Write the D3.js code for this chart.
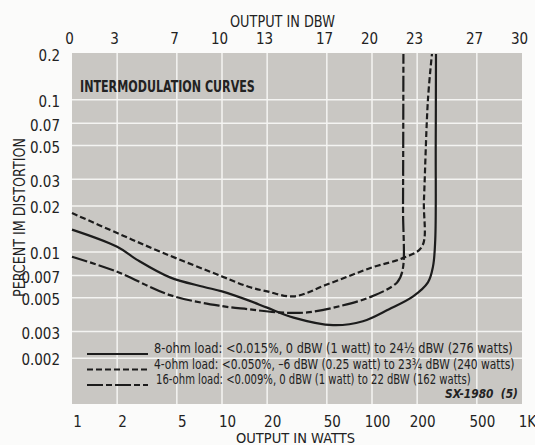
<!DOCTYPE html>
<html>
<head>
<meta charset="utf-8">
<script src="https://cdn.jsdelivr.net/npm/d3@7"></script>
<style>
  body { margin: 0; background: #fbfbfa; }
  svg { display: block; }
  text { font-family: "DejaVu Sans Condensed", "Liberation Sans Narrow", sans-serif; fill: #222; }
</style>
</head>
<body>
<svg id="canvas" width="535" height="445"></svg>
<script>
// data
const wattTicks = [1, 2, 5, 10, 20, 50, 100, 200, 500, 1000]
const wattLabels = ["1", "2", "5", "10", "20", "50", "100", "200", "500", "1K"]
const dbwTicks = [0, 3, 7, 10, 13, 17, 20, 23, 27, 30]
const pctTicks = [0.2, 0.1, 0.07, 0.05, 0.03, 0.02, 0.01, 0.007, 0.005, 0.003, 0.002]

const ohm8W = [1, 2, 2.7, 4.5, 7.5, 10, 15, 20, 30, 55, 87, 130, 188, 236, 255, 264, 266, 267]
const ohm8P = [0.014, 0.0108, 0.0089, 0.0068, 0.0059, 0.0055, 0.0048, 0.0043, 0.0037, 0.0033, 0.0035, 0.0042, 0.0051, 0.0063, 0.008, 0.012, 0.05, 0.2]

const ohm4W = [1, 2, 4, 10, 15, 20, 30, 50, 100, 160, 215, 222, 236, 251]
const ohm4P = [0.018, 0.0133, 0.0099, 0.0069, 0.0059, 0.0055, 0.0051, 0.0061, 0.0079, 0.0091, 0.0108, 0.022, 0.1, 0.2]

const ohm16W = [1, 2, 4.5, 10, 15, 24, 37, 61, 100, 147, 160, 161, 162]
const ohm16P = [0.0093, 0.0074, 0.0052, 0.0044, 0.0042, 0.004, 0.004, 0.0044, 0.0051, 0.0063, 0.0076, 0.02, 0.2]

const legendLabels = [
  "8-ohm load: <0.015%, 0 dBW (1 watt) to 24\u00bd dBW (276 watts)",
  "4-ohm load: <0.050%, \u20136 dBW (0.25 watt) to 23\u00be dBW (240 watts)",
  "16-ohm load: <0.009%, 0 dBW (1 watt) to 22 dBW (162 watts)"
]
const legendWidths = [359, 361, 315]
const dashes = [null, "6,3", "16,3,6,3"]

const svg = d3.select("#canvas")
const x0 = 72, x1 = 522, y0 = 54, y1 = 404

const x = d3.scaleLog().domain([1, 1000]).range([x0, x1])
const xDb = d3.scaleLinear().domain([0, 30]).range([x0, x1])
const y = d3.scaleLog().domain([0.001, 0.2]).range([y1, y0])

svg.append("rect")
  .attr("x", x0).attr("y", y0 - 1)
  .attr("width", x1 - x0).attr("height", y1 - y0 + 1)
  .attr("fill", "#c9c7c3")

const grid = svg.append("g").attr("stroke", "#f4f4f2").attr("stroke-width", 1.5)
grid.selectAll("line.v")
  .data(wattTicks.slice(1, -1))
  .enter().append("line")
  .attr("x1", d => x(d)).attr("x2", d => x(d))
  .attr("y1", y0 - 1).attr("y2", y1)
grid.selectAll("line.h")
  .data(pctTicks.slice(1))
  .enter().append("line")
  .attr("y1", d => y(d)).attr("y2", d => y(d))
  .attr("x1", x0).attr("x2", x1)

// axes: labels only
const styleAxis = g => {
  g.select(".domain").remove()
  g.selectAll("line").remove()
  g.selectAll("text").attr("font-size", 15).attr("font-family", null).attr("fill", "#222")
}

svg.append("g")
  .attr("transform", `translate(0,${y1 + 20})`)
  .call(d3.axisBottom(x).tickValues(wattTicks).tickSize(0).tickFormat((d, i) => wattLabels[i]))
  .call(styleAxis)
  .selectAll("text").attr("dx", 5).attr("dy", 0)

svg.append("g")
  .attr("transform", `translate(0,${y0 - 7})`)
  .call(d3.axisTop(xDb).tickValues(dbwTicks).tickSize(0))
  .call(styleAxis)
  .selectAll("text").attr("dx", -3).attr("dy", 0)

svg.append("g")
  .attr("transform", `translate(${x0 - 9},0)`)
  .call(d3.axisLeft(y).tickValues(pctTicks).tickSize(0).tickFormat(d => String(d)))
  .call(styleAxis)
  .selectAll("text").attr("dy", "0.45em")

// squeeze a text horizontally to the width it has in the scan
function label(px, py, w, size, str, rot) {
  const t = svg.append("text").attr("font-size", size).text(str)
  const sx = w / t.node().getComputedTextLength()
  t.attr("transform", `translate(${px},${py})` + (rot ? " rotate(-90)" : "") + ` scale(${sx},1)`)
  return t
}

label(230, 27, 105, 15, "OUTPUT IN DBW")
label(236, 443, 119, 14, "OUTPUT IN WATTS")
label(25, 297, 159, 15, "PERCENT IM DISTORTION", true)
label(80, 92, 175, 16, "INTERMODULATION CURVES").attr("font-weight", "bold")
  .each(function() {
    const t = d3.select(this)
    t.attr("transform", `translate(80,92) scale(${175 / this.getComputedTextLength()},1)`)
  })

const line = d3.line()
  .x(d => x(d[0]))
  .y(d => y(d[1]))
  .curve(d3.curveCatmullRom.alpha(0.5))

const series = [d3.zip(ohm8W, ohm8P), d3.zip(ohm4W, ohm4P), d3.zip(ohm16W, ohm16P)]

svg.append("g").selectAll("path")
  .data(series)
  .enter().append("path")
  .attr("d", line)
  .attr("fill", "none")
  .attr("stroke", "#1c1c1c")
  .attr("stroke-width", 2.2)
  .attr("stroke-dasharray", (d, i) => dashes[i])

legendLabels.forEach((str, i) => {
  const ly = 354 + i * 15.5
  svg.append("line")
    .attr("x1", 87).attr("x2", 148).attr("y1", ly).attr("y2", ly)
    .attr("stroke", "#1c1c1c").attr("stroke-width", 2)
    .attr("stroke-dasharray", dashes[i])
  label(154 + (i == 2 ? 2 : 0), ly - 1, legendWidths[i], 14, str)
})

const sx = svg.append("text").attr("font-size", 12.5).attr("font-weight", "bold")
  .attr("font-style", "italic").attr("xml:space", "preserve").text("SX-1980  (5)")
sx.attr("transform", `translate(445,398) scale(${73 / sx.node().getComputedTextLength()},1)`)
</script>
</body>
</html>
